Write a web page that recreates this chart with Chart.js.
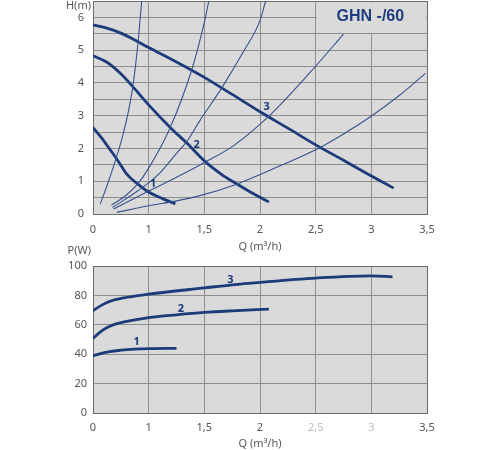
<!DOCTYPE html>
<html><head><meta charset="utf-8">
<script src="https://cdn.jsdelivr.net/npm/chart.js@4"></script>
<style>
html,body{margin:0;padding:0;background:#fff;width:500px;height:450px;overflow:hidden}
#top{position:absolute;left:0;top:0;width:500px;height:256px}
#bot{position:absolute;left:0;top:240px;width:500px;height:210px}
</style></head><body>
<div id="top"><canvas id="c1"></canvas></div>
<div id="bot"><canvas id="c2"></canvas></div>
<script>
// x axis tick labels (equally spaced on the original axis)
const tickQ = [0, 1, 1.5, 2, 2.5, 3, 3.5];
const tickLabels = ['0', '1', '1,5', '2', '2,5', '3', '3,5'];

// H(Q) pump curves, speeds 1..3  (Q in m3/h, H in m)
const h1Q = [0, 0.15, 0.3, 0.45, 0.6, 0.7, 0.8, 1, 1.125, 1.24];
const h1H = [2.64, 2.33, 1.98, 1.62, 1.23, 1.06, 0.92, 0.67, 0.47, 0.31];
const h2Q = [0, 0.25, 0.5, 0.75, 1, 1.2, 1.35, 1.5, 1.65, 1.8, 1.95, 2.08];
const h2H = [4.83, 4.63, 4.28, 3.82, 3.33, 2.62, 2.14, 1.62, 1.22, 0.9, 0.6, 0.37];
const h3Q = [0, 0.25, 0.5, 0.75, 1, 1.25, 1.5, 1.75, 2, 2.25, 2.5, 2.75, 3, 3.2];
const h3H = [5.77, 5.67, 5.52, 5.31, 5.08, 4.64, 4.17, 3.65, 3.12, 2.62, 2.11, 1.64, 1.16, 0.79];

// system (resistance) curves
const s1Q = [0.13, 0.3, 0.51, 0.62, 0.72, 0.81, 0.875];
const s1H = [0.30, 1.1, 2.24, 3.0, 3.94, 5.25, 6.5];
const s2Q = [0.33, 0.6, 0.8, 1.0, 1.19, 1.385, 1.5, 1.54];
const s2H = [0.27, 0.58, 0.91, 1.4, 2.61, 4.38, 5.85, 6.5];
const s3Q = [0.35, 0.8, 1.1, 1.25, 1.34, 1.46, 1.655, 1.85, 2.0, 2.05];
const s3H = [0.2, 0.7, 1.25, 1.85, 2.2, 2.85, 3.84, 4.95, 5.9, 6.5];
const s4Q = [0.37, 1.0, 1.25, 1.505, 1.76, 2.075, 2.45, 2.75];
const s4H = [0.15, 0.7, 1.12, 1.58, 2.08, 2.97, 4.32, 5.49];
const s5Q = [0.43, 1.0, 1.25, 1.46, 1.79, 2.1, 2.54, 2.75, 3.005, 3.245, 3.485];
const s5H = [0.05, 0.25, 0.4, 0.56, 0.91, 1.35, 2.03, 2.44, 3.0, 3.6, 4.29];

// P(Q) power curves (W)
const p1Q = [0, 0.15, 0.3, 0.5, 0.75, 1, 1.25];
const p1P = [38.9, 40.6, 41.8, 42.7, 43.4, 43.8, 44.0];
const p2Q = [0, 0.1, 0.19, 0.3, 0.43, 0.7, 1, 1.25, 1.5, 1.75, 2.08];
const p2P = [50.7, 54.2, 56.7, 59.0, 60.8, 63.0, 64.9, 66.8, 68.4, 69.5, 70.7];
const p3Q = [0, 0.15, 0.3, 0.55, 1, 1.5, 1.75, 2, 2.5, 3, 3.19];
const p3P = [69.6, 73.2, 75.9, 78.3, 80.8, 85.1, 87.2, 88.9, 91.8, 93.3, 92.6];

// curve number labels
const curveNames = ['1', '2', '3'];
const hLabelQ = [1.04, 1.43, 2.06];
const hLabelH = [0.93, 2.11, 3.27];
const pLabelQ = [0.785, 1.29, 1.735];
const pLabelP = [48.2, 71.1, 90.7];

const modelName = 'GHN -/60';

// the original axis places its labelled values at equal steps
function qPos(q) {
  for (let i = 1; i < tickQ.length; i++) {
    if (q <= tickQ[i] || i === tickQ.length - 1) {
      return (i - 1) + (q - tickQ[i - 1]) / (tickQ[i] - tickQ[i - 1]);
    }
  }
}

const NAVY = '#1c3b7a';
const THIN = '#36538f';
const BG = '#dadada';
const GRID = '#8e8e8e';
const EDGE = '#6c6c6c';
const TXT = '#555555';
Chart.defaults.font.family = 'Noto Sans';
Chart.defaults.font.size = 11;
Chart.defaults.color = TXT;

function series(qs, vs, thick) {
  return {
    data: qs.map((q, i) => ({ x: qPos(q), y: vs[i] })),
    borderColor: thick ? NAVY : THIN,
    borderWidth: thick ? 2.8 : 1.1,
    pointRadius: 0,
    cubicInterpolationMode: 'monotone',
    fill: false
  };
}

function xScale(height, pad, titlePad, faded) {
  return {
    type: 'linear', min: 0, max: tickLabels.length - 1,
    afterBuildTicks: s => { s.ticks = tickLabels.map((_, i) => ({ value: i })); },
    ticks: {
      autoSkip: false, maxRotation: 0, padding: pad,
      callback: v => tickLabels[v],
      color: c => (faded && (c.index === 4 || c.index === 5)) ? '#bdbdbd' : TXT
    },
    grid: {
      drawTicks: false,
      color: c => (c.tick && (c.tick.value === 0 || c.tick.value === tickLabels.length - 1)) ? EDGE : GRID
    },
    border: { display: true, color: EDGE },
    title: { display: true, text: 'Q (m³/h)', color: TXT, font: { size: 11 }, padding: { top: 0, bottom: titlePad } },
    afterFit: s => { s.height = height; s.paddingLeft = 0; s.paddingRight = 0; }
  };
}

function yFit(s) { s.width = 93; s.paddingTop = 0; s.paddingBottom = 0; }

const bgPlugin = {
  id: 'bg',
  beforeDraw(chart) {
    const a = chart.chartArea, ctx = chart.ctx;
    ctx.save(); ctx.fillStyle = BG;
    ctx.fillRect(a.left, a.top, a.right - a.left, a.bottom - a.top);
    ctx.restore();
  }
};

function labelPlugin(id, qs, vs, yTitle, titleDy) {
  return {
    id: id,
    afterDatasetsDraw(chart) {
      const ctx = chart.ctx, x = chart.scales.x, y = chart.scales.y, a = chart.chartArea;
      ctx.save();
      ctx.fillStyle = NAVY;
      ctx.font = 'bold 11px "Noto Sans"';
      ctx.textAlign = 'center'; ctx.textBaseline = 'middle';
      curveNames.forEach((n, i) => ctx.fillText(n, x.getPixelForValue(qPos(qs[i])), y.getPixelForValue(vs[i])));
      ctx.fillStyle = TXT;
      ctx.font = '11px "Noto Sans"';
      ctx.textAlign = 'right';
      ctx.fillText(yTitle, a.left - 2, a.top + titleDy);
      ctx.restore();
    }
  };
}

const boxPlugin = {
  id: 'box',
  beforeDatasetsDraw(chart) {
    const ctx = chart.ctx, x = chart.scales.x, y = chart.scales.y, a = chart.chartArea;
    const l = x.getPixelForValue(qPos(2.5)) + 1;
    const b = y.getPixelForValue(5.5) - 1;
    ctx.save();
    ctx.fillStyle = BG;
    ctx.fillRect(l, a.top + 1.5, a.right - 1 - l, b - a.top - 1.5);
    ctx.fillStyle = '#1f3d7d';
    ctx.font = 'bold 16px "Liberation Sans"';
    ctx.textAlign = 'center'; ctx.textBaseline = 'middle';
    ctx.fillText(modelName, (l + a.right) / 2 - 1.5, a.top + 16);
    ctx.restore();
  }
};

new Chart(document.getElementById('c1'), {
  type: 'line',
  data: {
    datasets: [
      series(s1Q, s1H, false), series(s2Q, s2H, false), series(s3Q, s3H, false),
      series(s4Q, s4H, false), series(s5Q, s5H, false),
      series(h1Q, h1H, true), series(h2Q, h2H, true), series(h3Q, h3H, true)
    ]
  },
  options: {
    responsive: true, maintainAspectRatio: false, animation: false,
    layout: { padding: { left: 0, right: 73, top: 1, bottom: 0 } },
    plugins: { legend: { display: false }, tooltip: { enabled: false } },
    scales: {
      x: xScale(42, 9, 3, false),
      y: {
        min: 0, max: 6.5,
        ticks: { stepSize: 0.5, autoSkip: false, padding: 9, callback: v => Number.isInteger(v) ? String(v) : '' },
        grid: { drawTicks: false, color: c => (c.tick && c.tick.value === 6.5) ? EDGE : GRID },
        border: { display: true, color: EDGE },
        afterFit: yFit
      }
    }
  },
  plugins: [bgPlugin, boxPlugin, labelPlugin('lab1', hLabelQ, hLabelH, 'H(m)', 5)]
});

new Chart(document.getElementById('c2'), {
  type: 'line',
  data: {
    datasets: [series(p1Q, p1P, true), series(p2Q, p2P, true), series(p3Q, p3P, true)]
  },
  options: {
    responsive: true, maintainAspectRatio: false, animation: false,
    layout: { padding: { left: 0, right: 73, top: 26, bottom: 0 } },
    plugins: { legend: { display: false }, tooltip: { enabled: false } },
    scales: {
      x: xScale(37, 8, 0, true),
      y: {
        min: 0, max: 100,
        ticks: { stepSize: 20, autoSkip: false, padding: 6 },
        grid: { drawTicks: false, color: c => (c.tick && c.tick.value === 100) ? EDGE : GRID },
        border: { display: true, color: EDGE },
        afterFit: yFit
      }
    }
  },
  plugins: [bgPlugin, labelPlugin('lab2', pLabelQ, pLabelP, 'P(W)', -15)]
});
</script>
</body></html>
